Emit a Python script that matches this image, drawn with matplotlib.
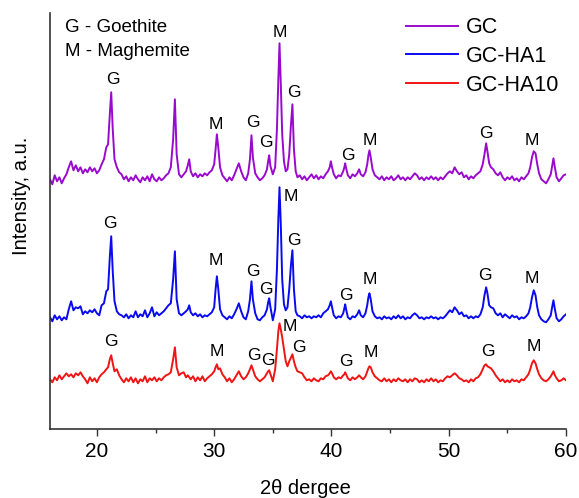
import matplotlib
matplotlib.use('Agg')
import matplotlib.pyplot as plt
from matplotlib.ticker import MultipleLocator

plt.rcParams['font.family'] = ['Liberation Sans', 'DejaVu Sans']

# 2theta grid (deg), finer around the reflections
two_theta = [
    16.0, 16.2, 16.4, 16.6, 16.8, 17.0, 17.2, 17.4, 17.6, 17.8, 18.0, 18.2, 18.4, 18.6, 18.8, 19.0, 19.2, 19.4, 19.6, 19.8, 20.0, 20.2, 20.4, 20.6,
    20.8, 20.95, 21.1, 21.22, 21.35, 21.5, 21.7, 21.9,
    22.1, 22.3, 22.5, 22.7, 22.9, 23.1, 23.3, 23.5, 23.7, 23.9, 24.1, 24.3, 24.5, 24.7, 24.9, 25.1, 25.3, 25.5, 25.7, 25.9, 26.1,
    26.3, 26.5, 26.65, 26.8, 27.0,
    27.2, 27.4, 27.6, 27.75, 27.87, 28.0, 28.2, 28.4, 28.6, 28.8, 29.0, 29.2, 29.4, 29.6, 29.8,
    30.0, 30.12, 30.23, 30.35, 30.5, 30.7, 30.9,
    31.1, 31.3, 31.5, 31.7, 31.9, 32.1, 32.3, 32.5, 32.7, 32.9,
    33.05, 33.18, 33.3, 33.5, 33.7, 33.9, 34.1, 34.3, 34.5,
    34.6, 34.69, 34.8, 35.0, 35.2, 35.35, 35.47, 35.57, 35.68, 35.8, 35.95, 36.1, 36.25, 36.4, 36.55, 36.67, 36.8, 36.95, 37.1,
    37.3, 37.5, 37.7, 37.9, 38.1, 38.3, 38.5, 38.7, 38.9, 39.1, 39.3, 39.5, 39.7,
    39.85, 39.95, 40.05, 40.2, 40.4, 40.6, 40.8, 41.0, 41.1, 41.17, 41.25, 41.4, 41.6, 41.8, 42.0, 42.2, 42.36, 42.5, 42.7, 42.9, 43.05, 43.15, 43.24, 43.35, 43.5, 43.7, 43.9,
    44.1, 44.3, 44.5, 44.7, 44.9, 45.1, 45.3, 45.5, 45.7, 45.9, 46.1, 46.3, 46.5, 46.7, 46.9, 47.1, 47.3, 47.5, 47.7, 47.9, 48.1, 48.3,
    48.5, 48.7, 48.9, 49.1, 49.3, 49.5, 49.7, 49.9, 50.1, 50.3, 50.5, 50.7, 50.9, 51.1, 51.3, 51.5, 51.7, 51.9, 52.1, 52.3, 52.5, 52.7,
    52.9, 53.05, 53.19, 53.3, 53.45, 53.6, 53.8, 54.0,
    54.2, 54.4, 54.6, 54.8, 55.0, 55.2, 55.4, 55.6, 55.8, 56.0, 56.2, 56.4, 56.6, 56.8,
    56.95, 57.1, 57.25, 57.4, 57.55, 57.7, 57.9, 58.1, 58.3, 58.5, 58.7, 58.8, 58.93, 59.05, 59.2, 59.4, 59.6, 59.8, 60.0,
]

# intensities as plotted (already stacked), a.u.
gc = [
    250, 245, 254, 248, 252, 246, 251, 255, 262, 268, 259, 264, 258, 262, 256, 260, 257, 262, 258, 261, 256, 259, 265, 270,
    282, 285, 315, 337, 300, 270, 262, 257,
    255, 250, 253, 248, 252, 249, 254, 250, 247, 252, 249, 253, 248, 255, 250, 248, 252, 249, 251, 254, 256,
    262, 290, 330, 275, 255,
    252, 255, 258, 264, 270, 258, 253, 256, 252, 255, 253, 256, 254, 257, 259,
    265, 280, 295, 282, 262, 254, 251,
    248, 252, 249, 254, 260, 266, 258, 252, 249, 256,
    270, 294, 272, 256, 252, 249, 251, 254, 260,
    268, 274, 263, 255, 262, 300, 350, 386, 345, 295, 268, 258, 260, 275, 305, 325, 280, 258, 252,
    254, 250, 253, 249, 252, 255, 251, 254, 250, 253, 251, 255, 258,
    262, 268, 262, 255, 251, 254, 253, 258, 262, 266, 261, 254, 251, 255, 253, 256, 260, 255, 253, 257, 265, 274, 279, 272, 260, 254, 252,
    250, 253, 249, 252, 250, 253, 249, 251, 254, 250, 252, 249, 252, 250, 253, 256, 254, 250, 252, 249, 252, 250,
    253, 250, 252, 249, 252, 250, 253, 256, 258, 256, 262, 258, 255, 257, 252, 254, 250, 253, 251, 254, 256, 258,
    265, 275, 286, 278, 266, 262, 260, 256,
    254, 257, 252, 249, 252, 250, 253, 249, 251, 248, 252, 250, 253, 256,
    262, 272, 278, 276, 265, 256, 250, 248, 246, 250, 255, 262, 271, 262, 252, 248, 251, 254, 255,
]

gc_ha1 = [
    112, 108, 114, 110, 113, 109, 112, 110, 120, 128, 119, 122, 121, 123, 115, 118, 116, 119, 117, 120, 116, 114, 124, 126,
    138, 140, 172, 193, 158, 128, 118, 115,
    114, 112, 115, 111, 114, 112, 118, 112, 115, 113, 119, 112, 116, 122, 113, 117, 114, 116, 118, 121, 124,
    126, 150, 178, 130, 116,
    114, 116, 118, 120, 124, 117, 114, 116, 113, 115, 112, 114, 113, 115, 117,
    122, 140, 153, 140, 120, 114, 112,
    110, 113, 111, 115, 120, 126, 118, 112, 110, 118,
    130, 148, 130, 116, 110, 109, 112, 114, 120,
    127, 131, 122, 109, 120, 160, 210, 242, 205, 150, 125, 119, 122, 140, 165, 179, 140, 118, 114,
    113, 111, 114, 112, 113, 111, 113, 112, 114, 112, 116, 118, 120,
    124, 128, 122, 114, 111, 113, 112, 116, 121, 125, 120, 112, 110, 113, 112, 115, 119, 114, 112, 116, 124, 132, 136, 130, 118, 113, 111,
    112, 110, 113, 111, 112, 110, 113, 111, 114, 111, 113, 110, 112, 111, 114, 116, 114, 111, 112, 110, 112, 111,
    113, 111, 112, 110, 112, 111, 113, 116, 119, 117, 122, 119, 115, 117, 113, 114, 111, 113, 111, 113, 112, 115,
    122, 134, 142, 136, 124, 122, 121, 116,
    114, 116, 112, 115, 113, 111, 114, 112, 113, 110, 112, 111, 113, 116,
    122, 132, 139, 134, 122, 114, 110, 108, 107, 110, 114, 121, 129, 120, 111, 108, 110, 113, 115,
]

gc_ha10 = [
    50, 47, 52, 49, 54, 50, 53, 56, 53, 55, 52, 56, 54, 57, 53, 50, 46, 52, 48, 51, 47, 52, 55, 57,
    60, 62, 70, 74, 66, 58, 60, 54,
    50, 47, 51, 48, 52, 47, 51, 46, 50, 48, 53, 47, 51, 49, 52, 48, 51, 49, 52, 54, 55,
    57, 70, 82, 62, 54,
    56, 57, 52, 54, 52, 50, 53, 48, 52, 49, 53, 48, 51, 53, 55,
    58, 62, 65, 60, 61, 55, 52,
    48, 51, 47, 50, 54, 58, 53, 50, 52, 56,
    60, 64, 60, 53, 50, 48, 50, 52, 56,
    58, 59, 55, 48, 60, 80, 98, 106, 100, 92, 80, 68, 63, 68, 72, 75, 68, 62, 58,
    57, 56, 52, 49, 50, 48, 51, 49, 48, 51, 50, 53, 54,
    56, 58, 56, 52, 50, 52, 51, 54, 55, 57, 55, 51, 49, 52, 50, 52, 54, 52, 50, 53, 58, 61, 63, 62, 57, 53, 51,
    49, 48, 51, 48, 50, 47, 50, 48, 51, 49, 48, 50, 47, 50, 48, 51, 50, 47, 49, 47, 50, 48,
    51, 48, 50, 47, 49, 48, 51, 53, 52, 54, 56, 54, 51, 50, 48, 49, 47, 50, 48, 51, 52, 55,
    60, 64, 65, 63, 62, 61, 58, 54,
    51, 48, 50, 47, 49, 47, 50, 48, 49, 47, 50, 49, 52, 55,
    60, 66, 69, 66, 60, 55, 51, 49, 48, 50, 53, 55, 58, 54, 51, 48, 49, 51, 49,
]

series_names = ['GC', 'GC-HA1', 'GC-HA10']
series_colors = ['#9A0ACD', '#0A0AF0', '#F01414']

# phase marks: (2theta, height, letter)
marks = [
    (21.33, 350, 'G'), (30.17, 305, 'M'), (33.26, 307, 'G'), (34.41, 287, 'G'), (35.63, 397, 'M'),
    (36.76, 337, 'G'), (41.36, 274, 'G'), (43.24, 289, 'M'), (53.19, 296, 'G'), (57.11, 289, 'M'),
    (21.13, 206, 'G'), (30.17, 169, 'M'), (33.30, 158, 'G'), (34.43, 140, 'G'), (36.50, 233, 'M'),
    (36.82, 189, 'G'), (41.25, 134, 'G'), (43.24, 150, 'M'), (53.11, 154, 'G'), (57.12, 151, 'M'),
    (21.19, 88, 'G'), (30.23, 78, 'M'), (33.35, 74, 'G'), (34.60, 69, 'G'), (36.42, 103, 'M'),
    (37.18, 82, 'G'), (41.23, 68, 'G'), (43.36, 77, 'M'), (53.37, 78, 'G'), (57.22, 83, 'M'),
]


def draw_xrd():
    fig = plt.figure(figsize=(5.79, 4.98), dpi=100)
    ax = fig.add_axes([50 / 579, 1 - 429.3 / 498, 516 / 579, 416.3 / 498])

    for ys, name, col in zip([gc, gc_ha1, gc_ha10], series_names, series_colors):
        ax.plot(two_theta, ys, color=col, lw=1.4, label=name)

    for x, y, s in marks:
        ax.text(x, y, s, ha='center', va='center', fontsize=12.5)

    ax.set_xlim(16, 60)
    ax.set_ylim(0, 416.3)
    ax.xaxis.set_major_locator(MultipleLocator(10))
    ax.xaxis.set_minor_locator(MultipleLocator(5))
    ax.set_yticks([])
    for side in ['top', 'right']:
        ax.spines[side].set_visible(False)
    for side in ['left', 'bottom']:
        ax.spines[side].set_linewidth(1.2)
        ax.spines[side].set_color('#333333')
    ax.tick_params(axis='x', which='major', length=5, width=1, color='#333333',
                   labelsize=15, pad=4)
    ax.tick_params(axis='x', which='minor', length=3, width=1, color='#333333')

    fig.text(305 / 579, 1 - 488 / 498, '2\u03b8 dergee', ha='center', va='center', fontsize=14.5)
    fig.text(22 / 579, 1 - 196 / 498, 'Intensity, a.u.', ha='center', va='center',
             rotation=90, fontsize=14.5)

    fig.text(65 / 579, 1 - 27 / 498, 'G - Goethite', ha='left', va='center', fontsize=13.5)
    fig.text(65 / 579, 1 - 52 / 498, 'M - Maghemite', ha='left', va='center', fontsize=13.5)

    ax.legend(loc='upper left', bbox_to_anchor=(405.7 / 579, 1 - 17.5 / 498),
              bbox_transform=fig.transFigure, frameon=False, fontsize=15.5,
              handlelength=2.45, handletextpad=0.35, labelspacing=0.35,
              borderpad=0, borderaxespad=0)

    fig.savefig('out.png', dpi=100)


if __name__ == '__main__':
    draw_xrd()
